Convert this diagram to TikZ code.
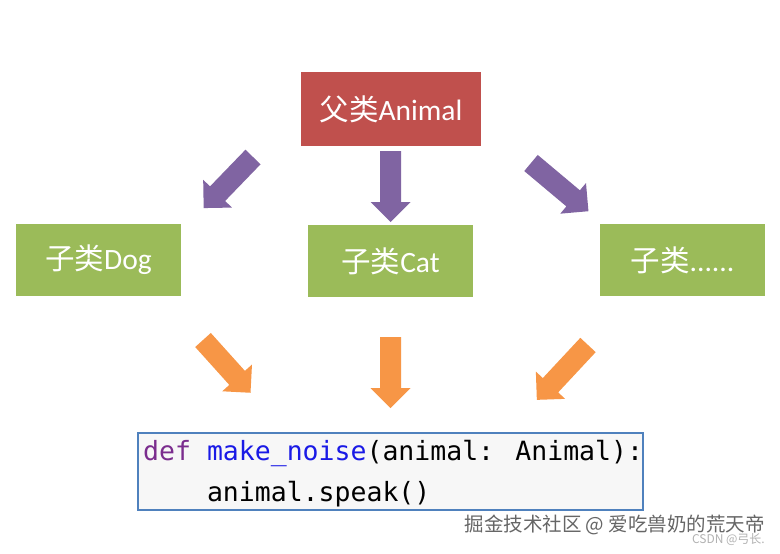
\documentclass[tikz,border=0pt]{standalone}
\usepackage{fontspec}
\setmainfont{Carlito}
\newfontfamily\cjk{Noto Sans CJK SC}
\newfontfamily\codefont{DejaVu Sans Mono}
\definecolor{redbox}{HTML}{C0504D}
\definecolor{greenbox}{HTML}{9BBB59}
\definecolor{purparrow}{HTML}{8064A2}
\definecolor{orgarrow}{HTML}{F79646}
\definecolor{codeborder}{HTML}{4F81BD}
\definecolor{kwpurple}{HTML}{7B2D8E}
\definecolor{fnblue}{HTML}{1A1AE6}
\tikzset{
  box/.style={draw=none, text=white, minimum width=165pt, minimum height=72pt, inner sep=0pt, font=\fontsize{29.5}{34}\selectfont},
  pics/blkarrow/.style={code={
    \fill (0,-10.5) -- (#1-20,-10.5) -- (#1-20,-20) -- (#1,0) -- (#1-20,20) -- (#1-20,10.5) -- (0,10.5) -- cycle;
  }},
}
\newcommand{\cj}[1]{{\cjk #1}}
\begin{document}
\begin{tikzpicture}[x=1pt,y=-1pt]
\useasboundingbox[fill=white] (0,0) rectangle (780,554);
\node[box, fill=redbox, minimum width=180pt, minimum height=74pt] (animal) at (391,109) {\cj{父类}Animal};
\node[box, fill=greenbox] (dog) at (98.5,260) {\cj{子类}Dog};
\node[box, fill=greenbox] (cat) at (390.5,261) {\cj{子类}Cat};
\node[box, fill=greenbox] (more) at (682.5,260) {\cj{子类}......};
% purple arrows
\pic[fill=purparrow, shift={(253,157)}, rotate=226] (pa1) {blkarrow=71};
\pic[fill=purparrow, shift={(390.5,151)}, rotate=270] (pa2) {blkarrow=71};
\pic[fill=purparrow, shift={(531,163)}, rotate=320] (pa3) {blkarrow=75};
% orange arrows
\pic[fill=orgarrow, shift={(203,340)}, rotate=312] (oa1) {blkarrow=71};
\pic[fill=orgarrow, shift={(390.5,337)}, rotate=270] (oa2) {blkarrow=71};
\pic[fill=orgarrow, shift={(588,345)}, rotate=227] (oa3) {blkarrow=75};
% code box
\node[draw=codeborder, line width=1.5pt, fill=white!97!black, minimum width=505pt, minimum height=77pt, inner sep=0pt] (code) at (390.5,471.5) {};
\node[anchor=west, inner sep=0pt, font=\codefont\fontsize{26.5}{30}\selectfont] (l1) at (143,453) {\textcolor{kwpurple}{def} \textcolor{fnblue}{make\_noise}(animal: Animal):};
\node[anchor=west, inner sep=0pt, font=\codefont\fontsize{26.5}{30}\selectfont] (l2) at (143,494) {\phantom{def }animal.speak()};
\node[anchor=east, inner sep=0pt, text=black!60, font=\cjk\fontsize{19.5}{22}\selectfont] (wm) at (765,525) {掘金技术社区 @ 爱吃兽奶的荒天帝};
\node[anchor=east, inner sep=0pt, text=black!30, font=\cjk\fontsize{12}{14}\selectfont] (wm2) at (765,540) {CSDN @弓长.};
\end{tikzpicture}
\end{document}
